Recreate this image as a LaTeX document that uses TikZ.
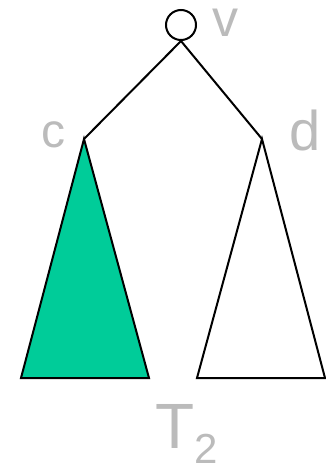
\documentclass[tikz,border=0pt]{standalone}
\usepackage{fontspec}
\setmainfont{Liberation Sans}
\definecolor{tealfill}{RGB}{0,204,153}
\definecolor{lbl}{RGB}{187,187,187}
\begin{document}
\begin{tikzpicture}[x=1pt,y=-1pt,
  edge/.style={line width=2pt,black},
  tri/.style={line width=2pt,black,line join=miter},
  lab/.style={text=lbl,inner sep=0pt,outer sep=0pt}]
\useasboundingbox (0,0) rectangle (326,466);
\node[circle,draw,line width=2pt,minimum size=30pt,inner sep=0pt] (v) at (181,25) {};
\coordinate (c) at (84,139);
\coordinate (d) at (262,139);
\coordinate (cl) at (21,378);
\coordinate (cr) at (149,378);
\coordinate (dl) at (197,378);
\coordinate (dr) at (325,378);
\draw[edge] (v.south) -- (c);
\draw[edge] (v.south) -- (d);
\draw[tri,fill=tealfill] (c) -- (cl) -- (cr) -- cycle;
\draw[tri] (d) -- (dl) -- (dr) -- cycle;
\node[lab,font=\fontsize{52}{52}\selectfont] (lv) at (225,23) {v};
\node[lab,font=\fontsize{48}{48}\selectfont] (lc) at (53,135) {c};
\node[lab,font=\fontsize{56}{56}\selectfont] (ld) at (305,130) {d};
\node[lab,anchor=base west,font=\fontsize{64}{64}\selectfont] (lt) at (155,448) {T\raisebox{-15pt}{\fontsize{42}{42}\selectfont 2}};
\end{tikzpicture}
\end{document}
